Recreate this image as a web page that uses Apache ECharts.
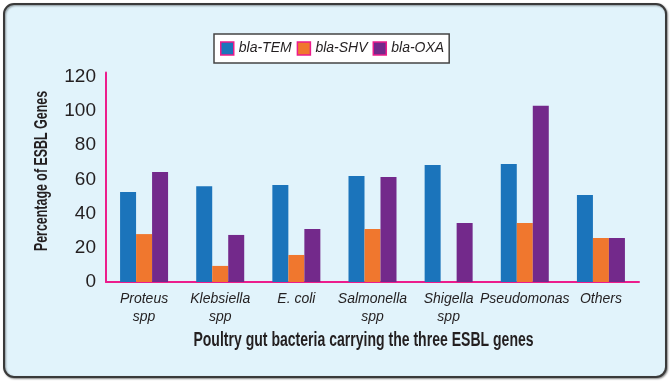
<!DOCTYPE html>
<html>
<head>
<meta charset="utf-8">
<script src="https://cdn.jsdelivr.net/npm/echarts@6/dist/echarts.min.js"></script>
<style>
html,body{margin:0;padding:0;background:#fff;}
#chart{width:671px;height:383px;}
</style>
</head>
<body>
<div id="chart"></div>
<script>
var categories = ['Proteus\nspp', 'Klebsiella\nspp', 'E. coli', 'Salmonella\nspp', 'Shigella\nspp', 'Pseudomonas', 'Others'];
var seriesNames = ['bla-TEM', 'bla-SHV', 'bla-OXA'];
var temValues = [52.6, 56, 56.7, 62, 68.4, 69, 50.8];
var shvValues = [28, 9.4, 15.8, 31, 0, 34.5, 25.7];
var oxaValues = [64.3, 27.5, 31, 61.4, 34.5, 103, 25.7];
var yTicks = [0, 20, 40, 60, 80, 100, 120];
var xTitle = 'Poultry gut bacteria carrying the three ESBL genes';
var yTitle = 'Percentage of ESBL Genes';

var font = '"Liberation Sans", Arial, sans-serif';
var colors = ['#1B74BB', '#F0772E', '#73298B'];
var pink = '#EC1C8C';
var ink = '#231F20';

var chart = echarts.init(document.getElementById('chart'), null, {renderer: 'canvas'});
var allSeries = [temValues, shvValues, oxaValues].map(function (vals, i) {
  return {
    name: seriesNames[i],
    type: 'bar',
    data: vals,
    barWidth: 16,
    barGap: '0%',
    itemStyle: {color: colors[i]}
  };
});
chart.setOption({
  animation: false,
  backgroundColor: '#fff',
  color: colors,
  graphic: [{
    type: 'rect',
    z: -10,
    silent: true,
    shape: {x: 4, y: 4, width: 662, height: 373, r: 10},
    style: {fill: '#E1F3FB', stroke: '#3a3a3a', lineWidth: 2, shadowBlur: 2, shadowColor: 'rgba(0,0,0,0.4)', shadowOffsetX: 1, shadowOffsetY: 1}
  }, {
    type: 'text',
    silent: true,
    x: 363.5,
    y: 341,
    scaleX: 0.72,
    style: {text: xTitle, fontFamily: font, fontWeight: 'bold', fontSize: 19.5, fill: ink, align: 'center', verticalAlign: 'middle'}
  }, {
    type: 'text',
    silent: true,
    x: 42,
    y: 171,
    rotation: Math.PI / 2,
    scaleX: 0.71,
    style: {text: yTitle, fontFamily: font, fontWeight: 'bold', fontSize: 17.5, fill: ink, align: 'center', verticalAlign: 'middle'}
  }],
  legend: {
    left: 214,
    top: 34,
    padding: [7, 5, 7, 6],
    itemGap: 5,
    itemWidth: 13,
    itemHeight: 13,
    backgroundColor: '#ffffff',
    borderColor: '#444',
    borderWidth: 1.5,
    icon: 'rect',
    itemStyle: {borderColor: pink, borderWidth: 1.5},
    textStyle: {fontFamily: font, fontStyle: 'italic', fontSize: 14, color: ink, lineHeight: 15},
    data: seriesNames
  },
  grid: {left: 106, right: 32, top: 72.4, bottom: 101, containLabel: false},
  xAxis: {
    type: 'category',
    data: categories,
    axisLine: {lineStyle: {color: pink, width: 2}},
    axisTick: {show: false},
    axisLabel: {fontFamily: font, fontStyle: 'italic', fontSize: 14, color: ink, margin: 8, lineHeight: 18, interval: 0}
  },
  yAxis: {
    type: 'value',
    min: 0,
    max: 122.5,
    interval: 20,
    axisLine: {show: true, lineStyle: {color: pink, width: 2}},
    axisTick: {show: false},
    splitLine: {show: false},
    axisLabel: {
      fontFamily: font, fontSize: 19, color: ink, margin: 10,
      formatter: function (v) { return yTicks.indexOf(v) >= 0 ? String(v) : ''; }
    }
  },
  series: allSeries
});
</script>
</body>
</html>
